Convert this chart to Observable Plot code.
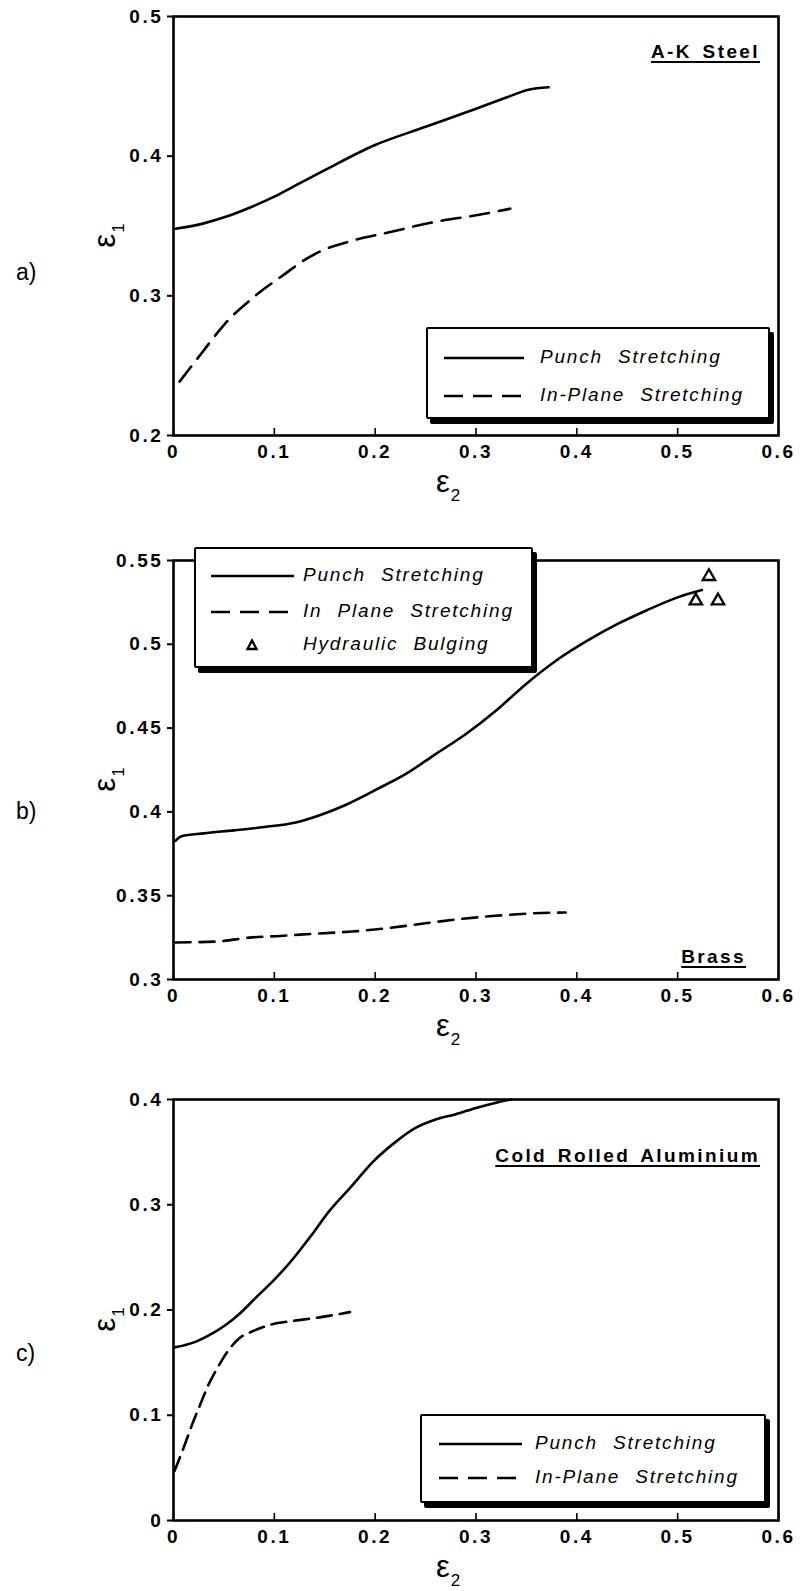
<!DOCTYPE html>
<html><head><meta charset="utf-8">
<script src="https://cdn.jsdelivr.net/npm/d3@7"></script>
<script src="https://cdn.jsdelivr.net/npm/@observablehq/plot@0.6"></script>
<style>
body{margin:0;background:#fff;}
#page{position:relative;width:804px;height:1591px;overflow:hidden;font-family:"Liberation Sans",Arial,sans-serif;color:#000;background:#fff;}
.panel{position:absolute;left:0;line-height:0;}
.txt{position:absolute;white-space:nowrap;line-height:1;z-index:2;}
.title{font-size:19px;font-weight:bold;letter-spacing:2.4px;word-spacing:3px;text-decoration:underline;text-decoration-thickness:2px;text-underline-offset:3px;}
.legend{position:absolute;box-sizing:border-box;border:2.5px solid #000;box-shadow:4px 5px 0 #000;background:#fff;border-radius:2px;z-index:3;}
.lrow{position:absolute;left:0;width:100%;height:0;}
.lrow svg{position:absolute;overflow:visible;}
.ltxt{position:absolute;top:-11px;font-style:italic;font-size:19px;letter-spacing:1.8px;word-spacing:8px;white-space:nowrap;line-height:1;}
.ax{position:absolute;font-size:31px;line-height:1;white-space:nowrap;z-index:2;}
.ax sub{font-size:17px;vertical-align:baseline;position:relative;top:9px;margin-left:1px;}
.plab{position:absolute;font-size:23px;line-height:1;z-index:2;}
</style>
</head><body>
<div id="page"></div>
<script>
// ---------- shared ticks ----------
const xTicks = [0, 0.1, 0.2, 0.3, 0.4, 0.5, 0.6];
const xTickLabels = ["0", "0.1", "0.2", "0.3", "0.4", "0.5", "0.6"];

// ---------- a) A-K Steel ----------
const aYTicks = [0.2, 0.3, 0.4, 0.5];
const aYTickLabels = ["0.2", "0.3", "0.4", "0.5"];
const aPunchE2 = [0.002, 0.029, 0.051, 0.073, 0.100, 0.125, 0.150, 0.200, 0.250, 0.300, 0.330, 0.352, 0.372];
const aPunchE1 = [0.348, 0.3517, 0.3564, 0.3624, 0.371, 0.3805, 0.390, 0.408, 0.421, 0.434, 0.442, 0.4476, 0.4493];
const aPlaneE2 = [0.006, 0.029, 0.051, 0.082, 0.113, 0.128, 0.148, 0.175, 0.215, 0.259, 0.303, 0.334];
const aPlaneE1 = [0.2386, 0.260, 0.280, 0.3005, 0.317, 0.3248, 0.3326, 0.339, 0.3457, 0.3529, 0.358, 0.3624];

// ---------- b) Brass ----------
const bYTicks = [0.3, 0.35, 0.4, 0.45, 0.5, 0.55];
const bYTickLabels = ["0.3", "0.35", "0.4", "0.45", "0.5", "0.55"];
const bPunchE2 = [0.002, 0.008, 0.030, 0.060, 0.090, 0.120, 0.145, 0.170, 0.200, 0.230, 0.260, 0.290, 0.320, 0.350, 0.380, 0.410, 0.440, 0.470, 0.500, 0.524];
const bPunchE1 = [0.3827, 0.3855, 0.3872, 0.389, 0.391, 0.3935, 0.398, 0.404, 0.413, 0.4225, 0.4345, 0.4465, 0.4605, 0.4765, 0.4905, 0.502, 0.512, 0.5205, 0.528, 0.5324];
const bPlaneE2 = [0.002, 0.044, 0.075, 0.106, 0.142, 0.177, 0.212, 0.248, 0.283, 0.319, 0.354, 0.389];
const bPlaneE1 = [0.3221, 0.3227, 0.325, 0.326, 0.3274, 0.3286, 0.3306, 0.3334, 0.336, 0.338, 0.3394, 0.340];
const bBulgeE2 = [0.531, 0.518, 0.540];
const bBulgeE1 = [0.5405, 0.526, 0.526];

// ---------- c) Cold Rolled Aluminium ----------
const cYTicks = [0, 0.1, 0.2, 0.3, 0.4];
const cYTickLabels = ["0", "0.1", "0.2", "0.3", "0.4"];
const cPunchE2 = [0.001, 0.021, 0.039, 0.052, 0.065, 0.083, 0.101, 0.118, 0.136, 0.154, 0.176, 0.198, 0.220, 0.240, 0.260, 0.280, 0.300, 0.320, 0.335];
const cPunchE1 = [0.1645, 0.1695, 0.178, 0.186, 0.196, 0.213, 0.2298, 0.248, 0.270, 0.2935, 0.317, 0.341, 0.3595, 0.373, 0.381, 0.386, 0.392, 0.397, 0.400];
const cPlaneE2 = [0.001, 0.010, 0.019, 0.026, 0.034, 0.043, 0.054, 0.065, 0.079, 0.096, 0.118, 0.145, 0.175];
const cPlaneE1 = [0.047, 0.069, 0.0925, 0.109, 0.1276, 0.144, 0.161, 0.173, 0.180, 0.186, 0.1896, 0.193, 0.198];

const zip = (xs, ys) => xs.map((x, i) => ({x, y: ys[i]}));
const page = document.getElementById("page");
const overlays = [];

function makePanel(cfg) {
  const frameH = cfg.height - cfg.mt - cfg.mb;
  const marks = [
    Plot.tickX(xTicks, {x: d => d, stroke: "#000", strokeWidth: 1.6, insetTop: frameH - 7}),
    Plot.axisY({ticks: cfg.yTicks, tickSize: 6, tickPadding: 4, strokeWidth: 2,
      tickFormat: d => cfg.yLabels[cfg.yTicks.indexOf(d)], label: null}),
    Plot.axisX({ticks: xTicks, tickSize: 0, tickPadding: 9,
      tickFormat: d => xTickLabels[xTicks.indexOf(d)], label: null}),
    ...cfg.lines.map(l => Plot.line(zip(l.x, l.y), {x: "x", y: "y", stroke: "#000",
      strokeWidth: 2.6, strokeDasharray: l.dash, curve: "monotone-x"})),
    ...(cfg.dots || []).map(d => Plot.dot(zip(d.x, d.y), {x: "x", y: "y", symbol: "triangle",
      r: 4.6, stroke: "#000", strokeWidth: 2.3, fill: "#fff"})),
    Plot.frame({stroke: "#000", strokeWidth: 2.6})
  ];
  const chart = Plot.plot({
    width: 804, height: cfg.height,
    marginLeft: 173, marginRight: 26, marginTop: cfg.mt, marginBottom: cfg.mb,
    x: {domain: [0, 0.6]},
    y: {domain: cfg.yDomain},
    style: {fontFamily: "'Liberation Sans', Arial, sans-serif", fontSize: "19px", fontWeight: "bold",
      color: "#000", background: "transparent", letterSpacing: "2.6px"},
    marks
  });
  const div = document.createElement("div");
  div.className = "panel";
  div.style.top = cfg.top + "px";
  div.appendChild(chart);
  page.appendChild(div);
  const fb = cfg.top + cfg.height - cfg.mb;
  const ft = cfg.top + cfg.mt;
  const e2 = document.createElement("div");
  e2.className = "ax";
  e2.innerHTML = "ε<sub>2</sub>";
  e2.style.left = "436px"; e2.style.top = (fb + 31) + "px";
  overlays.push(e2);
  const e1 = document.createElement("div");
  e1.className = "ax";
  e1.innerHTML = "ε<sub>1</sub>";
  e1.style.left = "92px"; e1.style.top = ((ft + fb) / 2 - 6) + "px";
  e1.style.transform = "rotate(-90deg)";
  e1.style.transformOrigin = "50% 50%";
  overlays.push(e1);
  const pl = document.createElement("div");
  pl.className = "plab";
  pl.textContent = cfg.panelLabel;
  pl.style.left = "16px"; pl.style.top = cfg.ply + "px";
  overlays.push(pl);
  const t = document.createElement("div");
  t.className = "txt title";
  t.textContent = cfg.title;
  t.style.right = cfg.titleRight + "px"; t.style.top = cfg.titleTop + "px";
  overlays.push(t);
}

function makeLegend(cfg) {
  const box = document.createElement("div");
  box.className = "legend";
  Object.assign(box.style, {left: cfg.left + "px", top: cfg.top + "px", width: cfg.w + "px", height: cfg.h + "px"});
  cfg.rows.forEach(r => {
    const row = document.createElement("div");
    row.className = "lrow";
    row.style.top = r.y + "px";
    let svg;
    if (r.type === "dot") {
      svg = `<svg style="left:${r.sx}px;top:-6px" width="12" height="12"><path d="M6,1.5 L10.5,10 L1.5,10 Z" fill="#fff" stroke="#000" stroke-width="2.3" stroke-linejoin="miter"/></svg>`;
    } else {
      svg = `<svg style="left:${cfg.lx0}px;top:-2px" width="${cfg.lx1 - cfg.lx0}" height="4"><line x1="0" y1="2" x2="${cfg.lx1 - cfg.lx0}" y2="2" stroke="#000" stroke-width="2.6" ${r.dash ? `stroke-dasharray="${r.dash}"` : ""}/></svg>`;
    }
    row.innerHTML = svg + `<div class="ltxt" style="left:${cfg.tx}px">${r.label}</div>`;
    box.appendChild(row);
  });
  overlays.push(box);
}

makePanel({top: 0, height: 500, mt: 16, mb: 65, yDomain: [0.2, 0.5], yTicks: aYTicks, yLabels: aYTickLabels,
  lines: [{x: aPunchE2, y: aPunchE1}, {x: aPlaneE2, y: aPlaneE1, dash: "19,10"}],
  panelLabel: "a)", ply: 261, title: "A-K Steel", titleRight: 44, titleTop: 42});
makePanel({top: 520, height: 520, mt: 40, mb: 61, yDomain: [0.3, 0.55], yTicks: bYTicks, yLabels: bYTickLabels,
  lines: [{x: bPunchE2, y: bPunchE1}, {x: bPlaneE2, y: bPlaneE1, dash: "15,9"}],
  dots: [{x: bBulgeE2, y: bBulgeE1}],
  panelLabel: "b)", ply: 800, title: "Brass", titleRight: 58, titleTop: 947});
makePanel({top: 1040, height: 551, mt: 59, mb: 71, yDomain: [0, 0.4], yTicks: cYTicks, yLabels: cYTickLabels,
  lines: [{x: cPunchE2, y: cPunchE1}, {x: cPlaneE2, y: cPlaneE1, dash: "15,8"}],
  panelLabel: "c)", ply: 1342, title: "Cold Rolled Aluminium", titleRight: 44, titleTop: 1146});

makeLegend({left: 426, top: 327, w: 344, h: 92, lx0: 16, lx1: 96, tx: 112,
  rows: [{y: 29, label: "Punch Stretching"}, {y: 67, label: "In-Plane Stretching", dash: "19,10"}]});
makeLegend({left: 194, top: 547, w: 339, h: 121, lx0: 15, lx1: 98, tx: 107,
  rows: [{y: 27, label: "Punch Stretching"}, {y: 63, label: "In Plane Stretching", dash: "19,10"},
         {y: 96, label: "Hydraulic Bulging", type: "dot", sx: 50}]});
makeLegend({left: 420, top: 1414, w: 346, h: 89, lx0: 17, lx1: 100, tx: 113,
  rows: [{y: 28, label: "Punch Stretching"}, {y: 62, label: "In-Plane Stretching", dash: "19,10"}]});

overlays.forEach(o => page.appendChild(o));
</script>
</body></html>
